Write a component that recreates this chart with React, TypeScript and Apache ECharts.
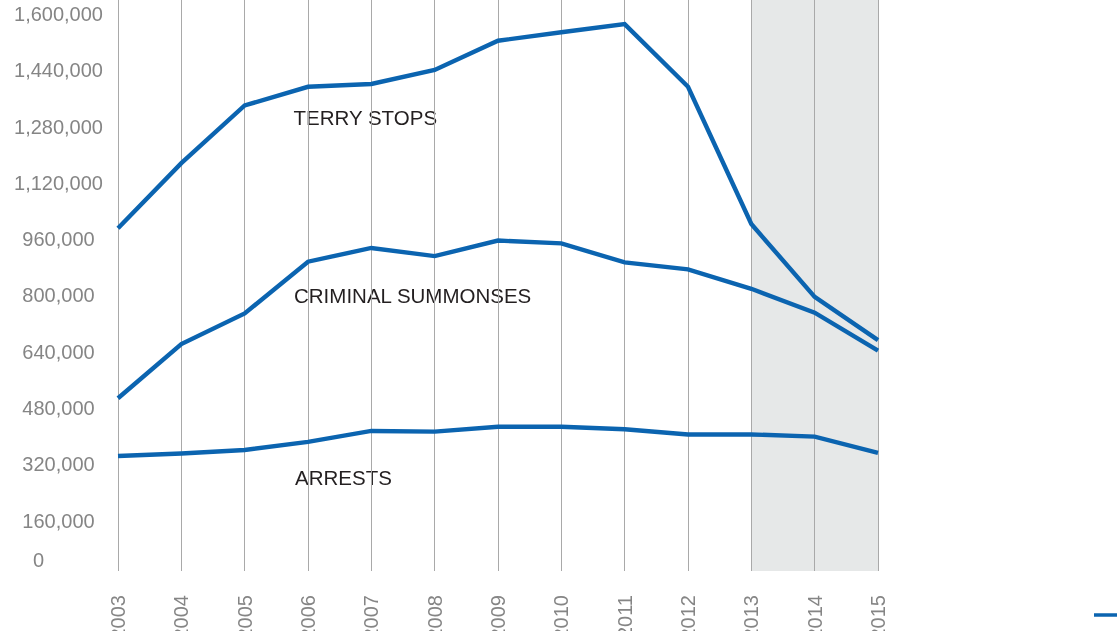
import React, { useEffect, useRef } from "react";
import * as echarts from "echarts";

const years = ["2003", "2004", "2005", "2006", "2007", "2008", "2009", "2010", "2011", "2012", "2013", "2014", "2015"];
// stacked components (bottom to top)
const arrests = [327000, 334000, 344000, 367000, 398000, 396000, 410000, 410000, 403000, 388000, 388000, 382000, 336000];
const criminalSummonses = [164000, 311000, 388000, 512000, 520000, 499000, 529000, 521000, 474000, 469000, 414000, 352000, 290000];
const terryStops = [483000, 514000, 591000, 497000, 466000, 529000, 568000, 600000, 677000, 519000, 184000, 45000, 30000];
const shadeFrom = "2013";
const shadeTo = "2015";
const annotations = ["TERRY STOPS", "CRIMINAL SUMMONSES", "ARRESTS"];
const legendItems = ["Terry Stops"];

const FONT = '"Liberation Sans", Arial, Helvetica, sans-serif';
const BLUE = "#0b64b0";
const GREY_TXT = "#858585";
const SHADE = "#e6e8e8";

export default function App() {
  const ref = useRef<HTMLDivElement>(null);
  useEffect(() => {
    if (!ref.current) return;
    const chart = echarts.init(ref.current, undefined, { renderer: "svg" });
    const i0 = years.indexOf(shadeFrom);
    const i1 = years.indexOf(shadeTo);
    const areaColors = years.slice(1).map((_, i) => (i >= i0 && i < i1 ? SHADE : "rgba(255,255,255,0)"));
    const lineSeries = (name: string, data: number[]) => ({
      name,
      type: "line",
      stack: "total",
      data,
      symbol: "none",
      silent: true,
      lineStyle: { color: BLUE, width: 4.4, join: "miter" },
      itemStyle: { color: BLUE },
      emphasis: { disabled: true },
    });
    const ann = (text: string, x: number, y: number) => ({
      type: "text",
      x,
      y,
      style: { text, fontSize: 20.5, fontFamily: FONT, fill: "#231f20", verticalAlign: "middle" },
    });
    chart.setOption({
      animation: false,
      grid: { left: 118, width: 760, top: 0, height: 571, outerBoundsMode: "none", containLabel: false },
      legend: {
        data: legendItems,
        left: 1094,
        top: 605,
        padding: 0,
        icon: "rect",
        itemWidth: 24,
        itemHeight: 3.5,
        itemGap: 8,
        textStyle: { fontSize: 20, color: GREY_TXT, fontFamily: FONT },
        selectedMode: false,
      },
      xAxis: {
        type: "category",
        data: years,
        boundaryGap: false,
        axisLine: { show: false },
        axisTick: { show: false },
        splitArea: { show: true, interval: 0, areaStyle: { color: areaColors } },
        splitLine: { show: true, interval: 0, lineStyle: { color: "#a9a9a9", width: 1 } },
        axisLabel: {
          interval: 0,
          rotate: 90,
          margin: 24,
          fontSize: 20,
          color: GREY_TXT,
          fontFamily: FONT,
        },
      },
      yAxis: {
        type: "value",
        min: 0,
        max: 1622700,
        interval: 160000,
        splitLine: { show: false },
        axisLine: { show: false },
        axisTick: { show: false },
        axisLabel: {
          align: "center",
          margin: 59.5,
          formatter: (v: number) => {
            if (v % 160000 !== 0) return "";
            if (v === 0) return "{z|0}";
            return "{n|" + v.toLocaleString("en-US") + "}";
          },
          rich: {
            n: { padding: [12, 0, 0, 0], fontSize: 20, color: GREY_TXT, fontFamily: FONT },
            z: { padding: [0, 40, 23, 0], fontSize: 20, color: GREY_TXT, fontFamily: FONT },
          },
        },
      },
      series: [
        lineSeries("Arrests", arrests),
        lineSeries("Criminal Summonses", criminalSummonses),
        lineSeries("Terry Stops", terryStops),
      ],
      graphic: [
        ann(annotations[0], 293.5, 117),
        ann(annotations[1], 294, 295),
        ann(annotations[2], 295, 477),
      ],
    });
    return () => chart.dispose();
  }, []);
  return <div ref={ref} style={{ position: "fixed", left: 0, top: 0, width: 1117, height: 631 }} />;
}
